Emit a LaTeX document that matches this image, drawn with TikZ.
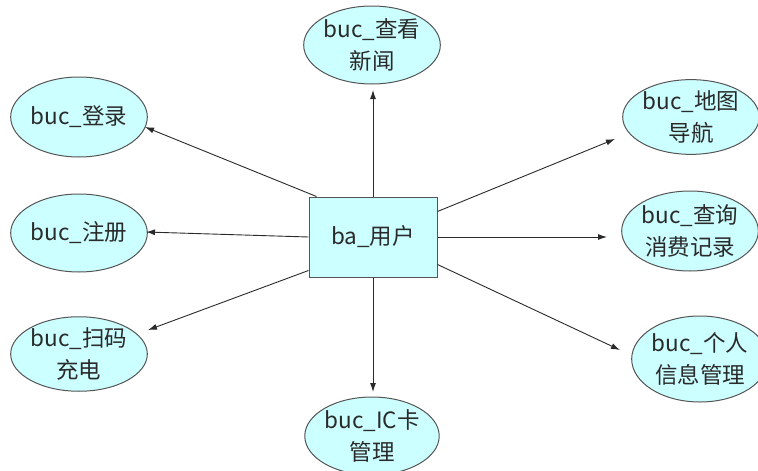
\documentclass[tikz,border=0pt]{standalone}
\usepackage{fontspec}
\setmainfont{Noto Sans CJK SC}
\usetikzlibrary{arrows.meta,shapes.geometric}
\definecolor{boxfill}{HTML}{CCFFFF}
\definecolor{edge}{HTML}{555555}
\definecolor{txt}{HTML}{2A2A2A}
\begin{document}
\begin{tikzpicture}[x=1pt,y=-1pt,
  uc/.style={ellipse,draw=edge,fill=boxfill,line width=1pt,inner sep=0pt,
    text=txt,align=center,font=\fontsize{22.5}{32}\selectfont},
  actor/.style={rectangle,draw=edge,fill=boxfill,line width=1pt,inner sep=0pt,
    minimum width=128pt,minimum height=80pt,text=txt,font=\fontsize{22.5}{32}\selectfont},
  conn/.style={draw=txt,line width=0.9pt,-{Latex[length=9pt,width=6pt]}}]
\useasboundingbox (0,0) rectangle (758,471);
\clip (0,0) rectangle (758,471);
\node[actor] (u) at (373,237) {ba\_用户};
\node[uc,minimum width=130pt,minimum height=78pt] (news) at (372,45) {buc\_查看\\新闻};
\node[uc,minimum width=134pt,minimum height=80pt] (login) at (79,117) {buc\_登录};
\node[uc,minimum width=134pt,minimum height=78pt] (reg) at (79,233) {buc\_注册};
\node[uc,minimum width=134pt,minimum height=74pt] (scan) at (79,354) {buc\_扫码\\充电};
\node[uc,minimum width=130pt,minimum height=78pt] (ic) at (372,436) {buc\_IC卡\\管理};
\node[uc,minimum width=132pt,minimum height=72pt] (map) at (691,117) {buc\_地图\\导航};
\node[uc,minimum width=134pt,minimum height=80pt] (query) at (690,231) {buc\_查询\\消费记录};
\node[uc,minimum width=134pt,minimum height=86pt] (pers) at (700,359) {buc\_个人\\信息管理};
\coordinate (tnews) at (373,90);
\coordinate (tlogin) at (145,127);
\coordinate (treg) at (146,232);
\coordinate (tscan) at (148,330);
\coordinate (tic) at (373,392);
\coordinate (tmap) at (615,139);
\coordinate (tquery) at (607,237);
\coordinate (tpers) at (620,350);
\draw[conn] (u.north) -- (tnews);
\draw[conn] ([xshift=8pt]u.north west) -- (tlogin);
\draw[conn] (u.west) -- (treg);
\draw[conn] ([yshift=7pt]u.south west) -- (tscan);
\draw[conn] (u.south) -- (tic);
\draw[conn] ([yshift=-15pt]u.north east) -- (tmap);
\draw[conn] (u.east) -- (tquery);
\draw[conn] ([yshift=13pt]u.south east) -- (tpers);
\end{tikzpicture}
\end{document}
